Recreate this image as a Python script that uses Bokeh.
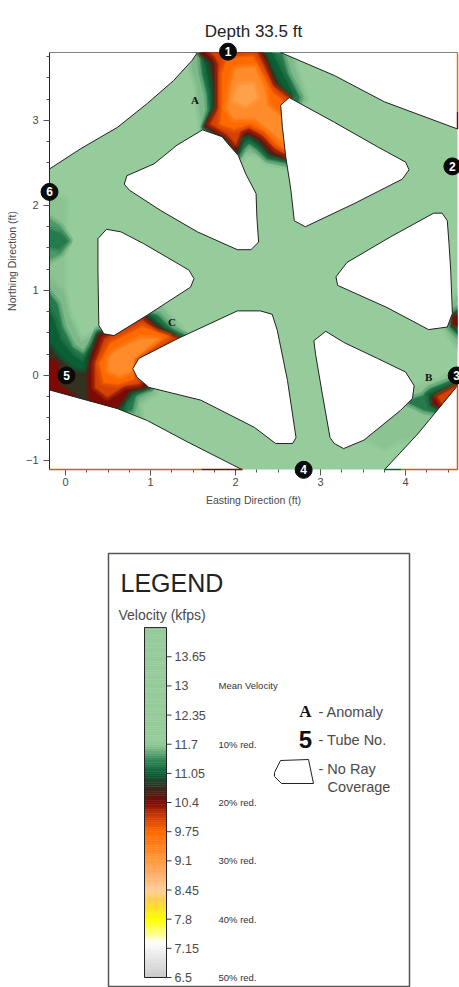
from bokeh.plotting import figure
from bokeh.layouts import column
from bokeh.models import Range1d, SingleIntervalTicker
from bokeh.core.properties import value
from bokeh.embed import file_html
from bokeh.resources import INLINE
import numpy as np

# colour scale of the legend bar, velocity (kfps) -> colour
scale_v = [6.5, 7.15, 7.3, 7.45, 7.8, 8.2, 8.45, 8.8, 9.1, 9.75, 10.1, 10.4, 10.7, 11.05, 11.4, 11.6, 11.75, 14.3]
scale_c = ["#c8c8c8", "#f5f5f5", "#ffffff", "#ffff99", "#ffff00", "#ffd040", "#ffcf9a", "#ffae6a", "#ff9a3c",
           "#ff6a00", "#cc3c06", "#7d0a04", "#3a2a1c", "#0b5f35", "#3b8f5d", "#7eb98a", "#96cb9b", "#96cb9b"]
tick_v = [13.65, 13, 12.35, 11.7, 11.05, 10.4, 9.75, 9.1, 8.45, 7.8, 7.15, 6.5]
reduction_v = [13, 11.7, 10.4, 9.1, 7.8, 6.5]
reduction_t = ["Mean Velocity", "10% red.", "20% red.", "30% red.", "40% red.", "50% red."]
mean_velocity = 13

# tubes and anomalies, feet
tube_x = [1.91, 4.55, 4.60, 2.80, 0.01, -0.19]
tube_y = [3.81, 2.46, 0.00, -1.11, 0.00, 2.16]
tube_t = ["1", "2", "3", "4", "5", "6"]
anomaly_x = [1.52, 4.27, 1.25]
anomaly_y = [3.24, -0.02, 0.63]
anomaly_t = ["A", "B", "C"]

# the coloured edge left along the bottom and right of the map
edge_x0 = [-0.19, 1.60, 3.75, 3.95, 4.61, 4.61, 4.61]
edge_x1 = [1.60, 2.08, 3.95, 4.61, 4.61, 4.61, 4.61]
edge_y0 = [-1.106, -1.106, -1.106, -1.106, 3.80, 3.10, -0.12]
edge_y1 = [-1.106, -1.106, -1.106, -1.106, 3.10, 2.90, -1.106]
edge_c = ["#d2591f", "#7d0a04", "#0b5f35", "#d2591f", "#e0702a", "#7d0a04", "#d2591f"]

# areas without ray coverage
hole_top_left = [(-0.19, 3.80), (1.55, 3.80), (1.49, 3.71), (1.27, 3.47), (0.96, 3.20), (0.61, 2.92), (0.18, 2.67), (-0.19, 2.43)]
hole_top_right = [(2.53, 3.80), (3.16, 3.53), (3.75, 3.22), (4.61, 2.90), (4.61, 3.80)]
hole_low_left = [(-0.19, -0.17), (0.61, -0.39), (0.96, -0.53), (1.43, -0.78), (2.08, -1.11), (-0.19, -1.11)]
hole_low_right = [(3.75, -1.11), (4.14, -0.69), (4.61, -0.12), (4.61, -1.11)]
hole_a = [(1.61, 2.89), (1.84, 2.81), (1.94, 2.69), (2.03, 2.59), (2.12, 2.37), (2.24, 2.14), (2.25, 1.86), (2.27, 1.57), (2.18, 1.48),
          (2.02, 1.48), (1.55, 1.69), (1.12, 1.94), (0.75, 2.18), (0.69, 2.25), (0.72, 2.35), (1.04, 2.49), (1.31, 2.71)]
hole_b = [(2.53, 3.18), (2.63, 3.27), (3.16, 2.98), (3.67, 2.69), (4.00, 2.51), (4.04, 2.42), (3.96, 2.31), (3.39, 2.02), (2.82, 1.75),
          (2.69, 1.82), (2.65, 2.18), (2.59, 2.57), (2.55, 2.92)]
hole_c = [(0.38, 1.61), (0.48, 1.72), (0.65, 1.69), (0.92, 1.55), (1.45, 1.24), (1.51, 1.14), (1.47, 1.04), (0.96, 0.71), (0.57, 0.47),
          (0.45, 0.49), (0.39, 0.59), (0.38, 1.24)]
hole_d = [(0.79, 0.08), (0.86, 0.20), (1.31, 0.43), (2.02, 0.76), (2.29, 0.76), (2.43, 0.72), (2.49, 0.53), (2.61, -0.06), (2.71, -0.73),
          (2.67, -0.80), (2.47, -0.80), (2.22, -0.61), (1.59, -0.29), (0.98, -0.14), (0.84, -0.02)]
hole_e = [(2.92, 0.41), (3.06, 0.52), (3.27, 0.39), (3.67, 0.20), (4.00, 0.04), (4.10, -0.12), (4.08, -0.27), (3.94, -0.41), (3.51, -0.76),
          (3.27, -0.86), (3.16, -0.80), (3.11, -0.73), (3.02, -0.22), (2.94, 0.25)]
hole_f = [(3.31, 1.33), (3.82, 1.63), (4.33, 1.91), (4.43, 1.91), (4.49, 1.82), (4.51, 1.55), (4.53, 1.24), (4.55, 0.73), (4.49, 0.57),
          (4.27, 0.54), (3.78, 0.80), (3.20, 1.06), (3.18, 1.16), (3.24, 1.24)]
holes = [hole_top_left, hole_top_right, hole_low_left, hole_low_right, hole_a, hole_b, hole_c, hole_d, hole_e, hole_f]

# velocity contours: top anomaly (A)
top_1160 = [(1.49, 3.90), (2.61, 3.90), (2.71, 3.55), (2.82, 3.25), (2.61, 3.04), (2.65, 2.45), (2.37, 2.51), (2.25, 2.61), (2.12, 2.63),
            (2.04, 2.51), (1.82, 2.73), (1.61, 2.88), (1.57, 3.16), (1.55, 3.39), (1.49, 3.59)]
top_1125 = [(1.53, 3.90), (1.59, 3.75), (1.61, 3.55), (1.67, 3.31), (1.69, 3.12), (1.63, 2.92), (1.90, 2.76), (2.03, 2.59), (2.09, 2.67),
            (2.16, 2.73), (2.25, 2.67), (2.37, 2.55), (2.61, 2.50), (2.65, 2.88), (2.75, 3.27), (2.61, 3.55), (2.51, 3.90)]
top_1105 = [(1.55, 3.90), (1.63, 3.73), (1.66, 3.55), (1.71, 3.31), (1.71, 3.12), (1.64, 2.92), (1.90, 2.76), (2.03, 2.60), (2.08, 2.73),
            (2.16, 2.78), (2.27, 2.71), (2.39, 2.59), (2.61, 2.54), (2.61, 3.27), (2.67, 3.31), (2.51, 3.63), (2.37, 3.90)]
top_1075 = [(1.55, 3.90), (1.69, 3.69), (1.74, 3.47), (1.76, 3.14), (1.65, 2.93), (1.90, 2.78), (2.01, 2.63), (2.06, 2.80), (2.16, 2.84),
            (2.29, 2.75), (2.41, 2.60), (2.61, 2.56), (2.61, 3.27), (2.51, 3.39), (2.39, 3.63), (2.29, 3.90)]
top_1040 = [(1.55, 3.90), (1.59, 3.79), (1.75, 3.71), (1.78, 3.43), (1.78, 3.14), (1.66, 2.94), (1.90, 2.81), (2.00, 2.67), (2.05, 2.84),
            (2.16, 2.87), (2.31, 2.78), (2.43, 2.64), (2.61, 2.57), (2.63, 3.27), (2.47, 3.39), (2.37, 3.63), (2.25, 3.90)]
top_1005 = [(1.61, 3.90), (1.76, 3.75), (1.80, 3.67), (1.80, 3.14), (1.71, 2.96), (1.90, 2.84), (2.00, 2.73), (2.06, 2.88), (2.16, 2.92),
            (2.33, 2.82), (2.47, 2.67), (2.61, 2.60), (2.61, 3.27), (2.43, 3.41), (2.33, 3.65), (2.20, 3.90)]
top_975 = [(1.90, 3.73), (2.20, 3.75), (2.33, 3.53), (2.43, 3.33), (2.59, 3.20), (2.59, 2.65), (2.47, 2.73), (2.33, 2.88), (2.16, 2.96),
           (1.98, 2.90), (1.82, 2.96), (1.84, 3.16), (1.84, 3.55)]
top_930 = [(2.00, 3.61), (2.22, 3.63), (2.33, 3.39), (2.37, 3.18), (2.53, 3.04), (2.57, 2.73), (2.41, 2.88), (2.22, 3.03), (1.98, 3.02),
           (1.90, 3.14), (1.94, 3.39)]
top_900 = [(2.04, 3.41), (2.20, 3.43), (2.25, 3.27), (2.12, 3.18), (1.98, 3.24)]

# anomaly round tube 5 (C)
low_1160 = [(-0.22, 1.16), (-0.02, 0.96), (0.04, 0.69), (0.18, 0.39), (0.35, 0.49), (0.41, 0.57), (0.53, 0.49), (0.96, 0.73), (1.12, 0.80),
            (1.41, 0.47), (1.27, 0.37), (1.00, -0.14), (1.04, -0.20), (0.86, -0.33), (0.88, -0.53), (0.61, -0.45), (-0.22, -0.24)]
low_1125 = [(-0.22, 1.00), (-0.10, 0.84), (-0.04, 0.57), (0.08, 0.33), (0.22, 0.24), (0.31, 0.37), (0.38, 0.53), (0.53, 0.49), (0.96, 0.73),
            (1.08, 0.71), (1.24, 0.55), (1.40, 0.47), (1.31, 0.39), (1.00, -0.14), (0.82, -0.24), (0.78, -0.41), (0.61, -0.45), (-0.22, -0.24)]
low_1105 = [(-0.22, 0.80), (-0.14, 0.65), (-0.06, 0.41), (0.08, 0.24), (0.20, 0.16), (0.29, 0.31), (0.37, 0.49), (0.53, 0.47), (0.92, 0.73),
            (1.02, 0.69), (1.16, 0.55), (1.35, 0.45), (1.00, -0.14), (0.82, -0.18), (0.71, -0.31), (0.67, -0.43), (-0.22, -0.24)]
low_1075 = [(-0.22, 0.37), (-0.08, 0.20), (0.08, 0.06), (0.24, 0.02), (0.29, 0.22), (0.39, 0.47), (0.92, 0.71), (1.06, 0.59), (1.31, 0.43),
            (0.96, -0.13), (0.75, -0.18), (0.65, -0.33), (0.59, -0.41), (-0.22, -0.24)]
low_1040a = [(-0.22, 0.20), (-0.10, 0.14), (-0.08, -0.12), (0.10, -0.25), (-0.22, -0.24)]
low_1040b = [(0.41, 0.47), (0.90, 0.69), (1.06, 0.55), (1.31, 0.43), (0.92, -0.12), (0.75, -0.16), (0.59, -0.38), (0.29, -0.29), (0.27, -0.06), (0.33, 0.25)]
low_1005 = [(0.46, 0.43), (0.90, 0.65), (1.08, 0.51), (1.31, 0.43), (0.86, -0.10), (0.69, -0.12), (0.49, -0.25), (0.35, -0.14), (0.35, 0.14)]
low_975 = [(0.53, 0.38), (0.90, 0.57), (1.20, 0.46), (0.80, 0.20), (0.80, -0.04), (0.61, -0.10), (0.45, -0.08), (0.40, 0.14)]
low_930 = [(0.59, 0.29), (0.88, 0.43), (1.08, 0.43), (0.80, 0.20), (0.78, 0.06), (0.63, 0.00), (0.50, 0.06), (0.51, 0.20)]

# anomaly by tube 3 (B)
b_1168 = [(3.55, -0.75), (4.08, -0.27), (4.14, -0.14), (4.33, -0.08), (4.65, 0.06), (4.65, -0.12), (4.37, -0.49), (4.15, -0.70), (3.95, -0.75), (3.75, -0.85)]
b_1125 = [(4.00, -0.31), (4.20, -0.24), (4.29, -0.16), (4.65, -0.02), (4.65, -0.14), (4.37, -0.44), (4.22, -0.41), (4.10, -0.35)]
b_1105 = [(4.27, -0.22), (4.65, -0.06), (4.65, -0.14), (4.39, -0.40), (4.29, -0.35)]
b_1040 = [(4.33, -0.26), (4.62, -0.11), (4.41, -0.37), (4.33, -0.33)]
b_1005 = [(4.38, -0.25), (4.60, -0.13), (4.43, -0.33)]

# right edge, near tube 3
right_1160 = [(4.65, 1.00), (4.51, 0.73), (4.47, 0.55), (4.63, 0.33), (4.65, 0.33)]
right_1105 = [(4.65, 0.80), (4.55, 0.73), (4.53, 0.57), (4.65, 0.45)]
right_1040 = [(4.65, 0.71), (4.56, 0.69), (4.56, 0.61), (4.65, 0.57)]

# left edge, below tube 6
left_1168 = [(-0.22, 2.18), (0.00, 2.06), (-0.02, 1.71), (0.04, 1.59), (-0.02, 1.43), (-0.02, 1.24), (-0.02, 1.12), (-0.02, 0.96), (-0.22, 0.96)]
left_1145 = [(-0.22, 1.86), (-0.06, 1.75), (0.04, 1.59), (-0.06, 1.43), (-0.22, 1.35)]
left_1125 = [(-0.18, 1.71), (-0.06, 1.67), (0.02, 1.58), (-0.08, 1.49), (-0.18, 1.51)]

contours = [
    (11.68, [b_1168, left_1168]),
    (11.6, [top_1160, low_1160, right_1160]),
    (11.45, [left_1145]),
    (11.25, [top_1125, low_1125, b_1125, left_1125]),
    (11.05, [top_1105, low_1105, b_1105, right_1105]),
    (10.75, [top_1075, low_1075]),
    (10.4, [top_1040, low_1040a, low_1040b, b_1040, right_1040]),
    (10.05, [top_1005, low_1005, b_1005]),
    (9.75, [top_975, low_975]),
    (9.3, [top_930, low_930]),
    (9.0, [top_900]),
]


def hex_rgb(c):
    return [int(c[i:i + 2], 16) for i in (1, 3, 5)]


def velocity_color(v):
    rgb = [np.interp(v, scale_v, [hex_rgb(c)[i] for c in scale_c]) for i in range(3)]
    return "#%02x%02x%02x" % tuple(int(round(a)) for a in rgb)


FONT = "Liberation Sans"
GREY = "#4a4a4a"

# ---- map ----
p = figure(width=459, height=545, output_backend="svg", toolbar_location=None,
           x_range=Range1d(-0.19, 4.61), y_range=Range1d(-1.106, 3.80),
           title="Depth 33.5 ft", min_border_left=49, min_border_right=2,
           min_border_top=52, min_border_bottom=76, frame_align=False,
           background_fill_color=velocity_color(mean_velocity))
p.title.align = "center"
p.title.offset = 7
p.title.standoff = 24
p.title.text_font = FONT
p.title.text_font_size = "17px"
p.title.text_font_style = "normal"
p.title.text_color = "#222222"
p.grid.visible = False
p.outline_line_color = None

p.xaxis.axis_label = "Easting Direction (ft)"
p.yaxis.axis_label = "Northing Direction (ft)"
p.xaxis.ticker = SingleIntervalTicker(interval=1, num_minor_ticks=4)
p.yaxis.ticker = SingleIntervalTicker(interval=1, num_minor_ticks=4)
p.xaxis.major_label_standoff = 2
for ax in [p.xaxis[0], p.yaxis[0]]:
    ax.axis_label_text_font = FONT
    ax.axis_label_text_font_size = "10.5px"
    ax.axis_label_text_font_style = "normal"
    ax.axis_label_text_color = GREY
    ax.major_label_text_font = FONT
    ax.major_label_text_font_size = "11px"
    ax.major_label_text_color = GREY
    ax.major_tick_in = 0
    ax.minor_tick_in = 0
    ax.major_tick_out = 6
    ax.minor_tick_out = 3
    ax.major_tick_line_color = "#555555"
    ax.minor_tick_line_color = "#555555"
p.xaxis.axis_line_color = None
p.yaxis.axis_line_color = "#222222"

for v, polys in contours:
    c = velocity_color(v)
    xs = [[a for a, b in poly] for poly in polys]
    ys = [[b for a, b in poly] for poly in polys]
    # wide faint edge first, to soften the step to the next level
    p.patches(xs, ys, fill_alpha=0, line_color=c, line_alpha=0.3, line_width=8, line_join="round")
    p.patches(xs, ys, fill_color=c, line_color=c, line_alpha=0.5, line_width=3, line_join="round")

p.patches([[a for a, b in h] for h in holes], [[b for a, b in h] for h in holes],
          fill_color="white", line_color="#222222", line_width=1)

p.text(anomaly_x, anomaly_y, text=anomaly_t, text_font=value("Liberation Serif"), text_font_style="bold",
       text_font_size="11px", text_align="center", text_baseline="middle", text_color="#111111")
p.segment(edge_x0, edge_y0, edge_x1, edge_y1, line_color=edge_c, line_width=1.5, level="overlay")

p.scatter(tube_x, tube_y, marker="circle", size=17, fill_color="#0a0a0a", line_color="#0a0a0a", level="overlay")
p.text(tube_x, tube_y, text=tube_t, text_font=value(FONT), text_font_style="bold", text_font_size="12px",
       text_align="center", text_baseline="middle", text_color="white", level="overlay")

# ---- legend ----
leg = figure(width=459, height=442, output_backend="svg", toolbar_location=None,
             x_range=Range1d(0, 459), y_range=Range1d(442, 0),
             min_border=0, outline_line_color=None, frame_align=False)
leg.axis.visible = False
leg.grid.visible = False
leg.extra_y_ranges = {"velocity": Range1d(6.277, 16.13)}

leg.quad(left=[108], right=[409], top=[8], bottom=[441], fill_color=None, line_color="#555555", line_width=1.5)

edges = np.arange(6.5, 14.3001, 0.05)
edge_colors = [velocity_color(e + 0.025) for e in edges[:-1]]
leg.quad(left=144, right=166, bottom=edges[:-1], top=edges[1:], fill_color=edge_colors,
         line_color=edge_colors, line_width=0.5, y_range_name="velocity")
leg.quad(left=[144], right=[166], bottom=[6.5], top=[14.3], fill_color=None, line_color="#222222", y_range_name="velocity")
leg.segment(x0=[166] * len(tick_v), x1=[171] * len(tick_v), y0=tick_v, y1=tick_v, line_color="#333333", y_range_name="velocity")
leg.text([174] * len(tick_v), tick_v, text=[("%g" % t) for t in tick_v], text_font=value(FONT), text_font_size="12.5px",
         text_baseline="middle", text_color=GREY, y_range_name="velocity")
leg.text([218] * len(reduction_v), reduction_v, text=reduction_t, text_font=value(FONT), text_font_size="9.5px",
         text_baseline="middle", text_color="#333333", y_range_name="velocity")

leg.text([120], [37], text=["LEGEND"], text_font=value(FONT), text_font_size="25px", text_baseline="middle", text_color="#222222")
leg.text([118], [69], text=["Velocity (kfps)"], text_font=value(FONT), text_font_size="14px", text_baseline="middle", text_color=GREY)

leg.text([305], [166], text=["A"], text_font=value("Liberation Serif"), text_font_style="bold", text_font_size="17px",
         text_align="center", text_baseline="middle", text_color="#111111")
leg.text([305], [194], text=["5"], text_font=value(FONT), text_font_style="bold", text_font_size="24px",
         text_align="center", text_baseline="middle", text_color="#111111")
leg.text([318, 318, 318], [166, 194, 223], text=["- Anomaly", "- Tube No.", "- No Ray"], text_font=value(FONT),
         text_font_size="14.5px", text_baseline="middle", text_color=GREY)
leg.text([327], [241], text=["Coverage"], text_font=value(FONT), text_font_size="14.5px", text_baseline="middle", text_color=GREY)
leg.patch([274, 280, 308, 313, 281, 274], [227, 215, 214, 238, 238, 231], fill_color="white", line_color="#222222")

page = column(p, leg, spacing=0)
open("out.html", "w").write(file_html(page, INLINE))
